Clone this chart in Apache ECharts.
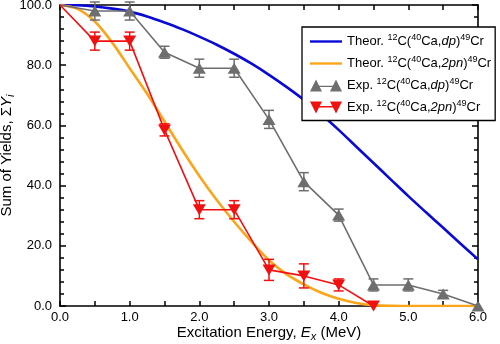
<!DOCTYPE html>
<html>
<head>
<meta charset="utf-8">
<script src="https://cdn.jsdelivr.net/npm/echarts@6/dist/echarts.min.js"></script>
<style>
html,body{margin:0;padding:0;background:#fff;}
#c{width:500px;height:344px;}
</style>
</head>
<body>
<div id="c"></div>
<script>
// ---- data ----
var theoX = [0, 0.25, 0.5, 0.75, 1.0, 1.25, 1.5, 1.75, 2.0, 2.25, 2.5, 2.75, 3.0, 3.25, 3.5, 3.75, 4.0, 4.25, 4.5, 4.75, 5.0, 5.25, 5.5, 5.75, 6.0];
var theoDp = [100, 99.9, 99.5, 98.8, 97.8, 96.2, 94.2, 92.0, 89.5, 86.8, 83.8, 80.5, 76.8, 72.8, 68.5, 63.7, 58.5, 53.0, 47.5, 42.0, 36.5, 31.2, 26.0, 20.7, 15.5];
var theo2pn = [100, 98.7, 94.5, 87.5, 79.0, 70.5, 61.3, 52.0, 43.2, 35.2, 28.0, 21.3, 15.2, 10.6, 7.2, 4.4, 2.4, 1.0, 0.3, 0.05, 0, 0, 0, 0, 0];
var expX = [0, 0.5, 1.0, 1.5, 2.0, 2.5, 3.0, 3.5, 4.0, 4.5, 5.0, 5.5, 6.0];
var expDp = [100, 98, 98, 84.3, 79, 79, 62, 41.3, 30.2, 7, 7, 4, 0];
var expDpErr = [0, 3, 3, 2, 3, 3, 3, 3, 2, 2, 2, 1.2, 0];
var exp2pnX = [0, 0.5, 1.0, 1.5, 2.0, 2.5, 3.0, 3.5, 4.0, 4.5];
var exp2pn = [100, 88, 88, 58.5, 32, 32, 12, 10, 7, 0];
var exp2pnErr = [0, 3, 3, 2, 3, 3, 3.5, 4, 2, 0];
var xTicks = ['0.0', '1.0', '2.0', '3.0', '4.0', '5.0', '6.0'];
var names = ['Theor. dp', 'Theor. 2pn', 'Exp. dp', 'Exp. 2pn'];

// ---- build ----
function pairs(xs, ys) { return xs.map(function (x, i) { return [x, ys[i]]; }); }
function expData(xs, ys) {
  return xs.map(function (x, i) {
    var d = { value: [x, ys[i]] };
    if (i === 0) d.symbol = 'none';
    return d;
  });
}
function errData(xs, ys, es) {
  var out = [];
  xs.forEach(function (x, i) { if (es[i] > 0) out.push([x, ys[i] - es[i], ys[i] + es[i]]); });
  return out;
}
function errSeries(data, color) {
  return {
    type: 'custom', data: data, z: 3, silent: true, clip: false,
    renderItem: function (params, api) {
      var x = api.value(0), lo = api.coord([x, api.value(1)]), hi = api.coord([x, api.value(2)]);
      var w = 5;
      var st = { stroke: color, lineWidth: 1.5 };
      return { type: 'group', children: [
        { type: 'line', shape: { x1: lo[0], y1: lo[1], x2: hi[0], y2: hi[1] }, style: st },
        { type: 'line', shape: { x1: lo[0] - w, y1: lo[1], x2: lo[0] + w, y2: lo[1] }, style: st },
        { type: 'line', shape: { x1: hi[0] - w, y1: hi[1], x2: hi[0] + w, y2: hi[1] }, style: st }
      ]};
    }
  };
}
var labelMap = {
  'Theor. dp': 'Theor. {sup|12}C({sup|40}Ca,{it|dp}){sup|49}Cr',
  'Theor. 2pn': 'Theor. {sup|12}C({sup|40}Ca,{it|2pn}){sup|49}Cr',
  'Exp. dp': 'Exp. {sup|12}C({sup|40}Ca,{it|dp}){sup|49}Cr',
  'Exp. 2pn': 'Exp. {sup|12}C({sup|40}Ca,{it|2pn}){sup|49}Cr'
};
var FONT = '"Liberation Sans", Arial, sans-serif';
var blue = '#0a0ad8', orange = '#fba51a', gray = '#6e6e6e', red = '#f01010';

var chart = echarts.init(document.getElementById('c'), null, { renderer: 'canvas' });
var axisCommon = {
  axisLine: { show: true, onZero: false, lineStyle: { color: '#000', width: 1.6 } },
  splitLine: { show: false },
  nameMoveOverlap: false
};
chart.setOption({
  animation: false,
  textStyle: { fontFamily: FONT },
  grid: { left: 60, right: 22, top: 5, bottom: 38, containLabel: false, outerBoundsMode: 'none' },
  legend: {
    orient: 'vertical', left: 302, top: 27,
    padding: [6, 4, 5, 8], itemGap: 5.5, itemWidth: 32, itemHeight: 12,
    backgroundColor: '#fff', borderColor: '#000', borderWidth: 1.3, z: 10,
    data: [
      { name: names[0], icon: 'path://M0,0 M0,4.8 L32,4.8 L32,7.2 L0,7.2 Z M32,12' },
      { name: names[1], icon: 'path://M0,0 M0,4.8 L32,4.8 L32,7.2 L0,7.2 Z M32,12' },
      { name: names[2], icon: 'path://M0,12 L6,0 L12,12 Z M20,12 L26,0 L32,12 Z M6,6.2 L26,6.2 L26,7.6 L6,7.6 Z' },
      { name: names[3], icon: 'path://M0,0 L12,0 L6,12 Z M20,0 L32,0 L26,12 Z M6,4.6 L26,4.6 L26,6 L6,6 Z' }
    ],
    formatter: function (n) { return labelMap[n]; },
    textStyle: {
      fontFamily: FONT, fontSize: 13, color: '#000', lineHeight: 16,
      rich: {
        sup: { fontSize: 9, fontFamily: FONT, padding: [0, 0, 8, 0], color: '#000' },
        it: { fontSize: 13, fontStyle: 'italic', fontFamily: FONT, color: '#000' }
      }
    }
  },
  xAxis: [
    Object.assign({}, axisCommon, {
      type: 'value', min: 0, max: 6, interval: 1, position: 'bottom',
      axisTick: { show: true, inside: true, length: 5, lineStyle: { color: '#000', width: 1.5 } },
      minorTick: { show: true, splitNumber: 2, length: 5, lineStyle: { color: '#000', width: 1.5 } },
      axisLabel: { color: '#000', fontSize: 13, margin: 5, fontFamily: FONT,
        formatter: function (v) { return xTicks[Math.round(v)]; } },
      name: '{n|Excitation Energy, }{it|E}{sub|x}{n| (MeV)}',
      nameLocation: 'middle', nameGap: 18,
      nameTextStyle: { fontSize: 15, color: '#000', fontFamily: FONT,
        rich: {
          n: { fontSize: 15, fontFamily: FONT, color: '#000' },
          it: { fontSize: 15, fontStyle: 'italic', fontFamily: FONT, color: '#000' },
          sub: { fontSize: 11, fontStyle: 'italic', fontFamily: FONT, color: '#000', padding: [7, 0, 0, 0] }
        } }
    }),
    Object.assign({}, axisCommon, {
      type: 'value', min: 0, max: 6, interval: 1, position: 'top',
      axisTick: { show: true, inside: true, length: 5, lineStyle: { color: '#000', width: 1.5 } },
      minorTick: { show: true, splitNumber: 2, length: 5, lineStyle: { color: '#000', width: 1.5 } },
      axisLabel: { show: false }
    })
  ],
  yAxis: [
    Object.assign({}, axisCommon, {
      type: 'value', min: 0, max: 100, interval: 20, position: 'left',
      axisTick: { show: true, inside: true, length: 6, lineStyle: { color: '#000', width: 1.5 } },
      minorTick: { show: true, splitNumber: 5, length: 4, lineStyle: { color: '#000', width: 1.5 } },
      axisLabel: { color: '#000', fontSize: 13, margin: 8, fontFamily: FONT,
        formatter: function (v) { return v.toFixed(1); } },
      name: '{n|Sum of Yields, \u03A3}{it|Y}{sub|i}',
      nameLocation: 'middle', nameGap: 44,
      nameTextStyle: { fontSize: 15, color: '#000', fontFamily: FONT,
        rich: {
          n: { fontSize: 15, fontFamily: FONT, color: '#000' },
          it: { fontSize: 15, fontStyle: 'italic', fontFamily: FONT, color: '#000' },
          sub: { fontSize: 11, fontStyle: 'italic', fontFamily: FONT, color: '#000', padding: [7, 0, 0, 0] }
        } }
    }),
    Object.assign({}, axisCommon, {
      type: 'value', min: 0, max: 100, interval: 20, position: 'right',
      axisTick: { show: true, inside: true, length: 6, lineStyle: { color: '#000', width: 1.5 } },
      minorTick: { show: true, splitNumber: 5, length: 4, lineStyle: { color: '#000', width: 1.5 } },
      axisLabel: { show: false }
    })
  ],
  series: [
    { name: names[0], type: 'line', data: pairs(theoX, theoDp), smooth: 0.3, symbol: 'none',
      lineStyle: { color: blue, width: 2.6 }, itemStyle: { color: blue }, z: 2 },
    { name: names[1], type: 'line', data: pairs(theoX, theo2pn), smooth: 0.3, symbol: 'none',
      lineStyle: { color: orange, width: 2.6 }, itemStyle: { color: orange }, z: 2 },
    { name: names[2], type: 'line', data: expData(expX, expDp), symbol: 'triangle', symbolSize: [13, 11],
      clip: false, lineStyle: { color: gray, width: 1.6 }, itemStyle: { color: gray }, z: 4 },
    { name: names[3], type: 'line', data: expData(exp2pnX, exp2pn), symbol: 'triangle', symbolRotate: 180,
      symbolSize: [13, 11], clip: false, lineStyle: { color: red, width: 1.6 }, itemStyle: { color: red }, z: 5 },
    Object.assign(errSeries(errData(expX, expDp, expDpErr), gray), { name: 'errDp' }),
    Object.assign(errSeries(errData(exp2pnX, exp2pn, exp2pnErr), red), { name: 'err2pn' })
  ]
});
</script>
</body>
</html>
